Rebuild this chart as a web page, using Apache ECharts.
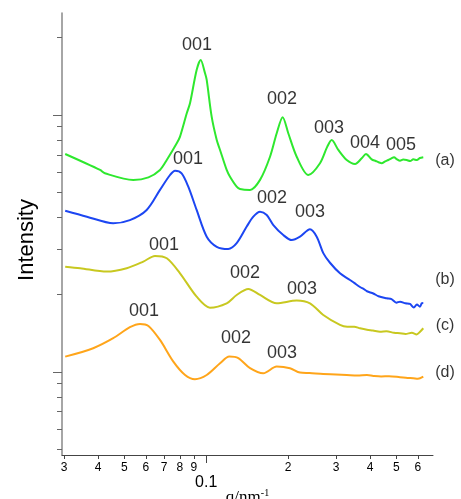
<!DOCTYPE html>
<html><head><meta charset="utf-8">
<script src="https://cdn.jsdelivr.net/npm/echarts@6/dist/echarts.min.js"></script>
<style>html,body{margin:0;padding:0;background:#fff}#c{width:461px;height:499px}</style>
</head><body><div id="c"></div>
<script>
// q in nm^-1 (log axis), intensity arbitrary (log axis)
const qA = [0.0303,0.0407,0.0424,0.0539,0.0613,0.0676,0.0716,0.0779,0.0801,0.0848,0.0872,0.0922,0.0954,0.0990,0.1004,0.1047,0.1093,0.1124,0.1189,0.1223,0.1294,0.1331,0.1449,0.1577,0.1716,0.1816,0.1910,0.2003,0.2151,0.2373,0.2620,0.2787,0.2893,0.3059,0.3285,0.3525,0.3729,0.3867,0.4059,0.4200,0.4300,0.4416,0.4550,0.4671,0.4800,0.4902,0.5030,0.5158,0.5300,0.5460,0.5620,0.5772,0.5950,0.6100,0.6281];
const iA = [0.705,0.611,0.593,0.559,0.572,0.611,0.668,0.776,0.824,1.015,1.114,1.497,1.637,1.453,1.369,0.985,0.799,0.731,0.611,0.575,0.526,0.515,0.511,0.559,0.688,0.849,0.980,0.849,0.688,0.584,0.649,0.753,0.799,0.731,0.668,0.645,0.678,0.705,0.672,0.662,0.655,0.649,0.660,0.668,0.678,0.685,0.672,0.664,0.671,0.668,0.662,0.672,0.668,0.680,0.685];

const qB = [0.0303,0.0364,0.0455,0.0524,0.0604,0.0676,0.0736,0.0768,0.0812,0.0859,0.0922,0.1004,0.1093,0.1205,0.1294,0.1409,0.1490,0.1577,0.1669,0.1765,0.1920,0.2062,0.2212,0.2407,0.2548,0.2694,0.2851,0.3103,0.3377,0.3500,0.3676,0.3800,0.3900,0.4114,0.4300,0.4607,0.4800,0.5000,0.5158,0.5400,0.5613,0.5800,0.5950,0.6107,0.6200,0.6281];
const iB = [0.424,0.402,0.379,0.390,0.427,0.511,0.584,0.607,0.593,0.526,0.427,0.336,0.307,0.301,0.317,0.368,0.402,0.420,0.408,0.373,0.341,0.326,0.336,0.359,0.336,0.290,0.266,0.242,0.228,0.222,0.214,0.210,0.206,0.202,0.197,0.1935,0.192,0.186,0.1877,0.185,0.1839,0.178,0.183,0.1795,0.1850,0.1855];

const qC = [0.0303,0.0344,0.0431,0.0510,0.0587,0.0648,0.0716,0.0801,0.0922,0.1032,0.1189,0.1294,0.1428,0.1577,0.1816,0.2151,0.2407,0.2694,0.3103,0.3300,0.3500,0.3676,0.3900,0.4100,0.4354,0.4600,0.4900,0.5158,0.5400,0.5700,0.5939,0.6100,0.6281];
const iC = [0.2569,0.2533,0.2457,0.2533,0.2687,0.2828,0.2770,0.2420,0.1963,0.1779,0.1850,0.1993,0.2104,0.1993,0.1850,0.1897,0.1850,0.1666,0.1524,0.1500,0.1500,0.1479,0.1460,0.1450,0.1435,0.1440,0.1420,0.1414,0.1405,0.1420,0.1400,0.1430,0.1479];

const qD = [0.0303,0.0384,0.0455,0.0524,0.0571,0.0613,0.0676,0.0757,0.0836,0.0909,0.1004,0.1124,0.1216,0.1312,0.1449,0.1621,0.1816,0.2032,0.2212,0.2400,0.2694,0.3000,0.3285,0.3600,0.3900,0.4114,0.4400,0.4700,0.5158,0.5500,0.5772,0.6000,0.6281];
const iD = [0.1147,0.1237,0.1353,0.1493,0.1538,0.1510,0.1332,0.1097,0.0973,0.0937,0.0973,0.1081,0.1147,0.1131,0.1034,0.0988,0.1049,0.1034,0.0994,0.0990,0.0982,0.0978,0.0973,0.0968,0.0972,0.0965,0.0960,0.0962,0.0954,0.0948,0.0945,0.0940,0.0958];

// peak annotations
const peakText = ['001','002','003','004','005','001','002','003','001','002','003','001','002','003'];
const peakQ    = [0.0925,0.190,0.2828,0.3837,0.520,0.0857,0.1745,0.2407,0.0700,0.1388,0.225,0.0590,0.1287,0.190];
const peakI    = [1.873,1.154,0.890,0.778,0.764,0.674,0.4754,0.4195,0.312,0.2428,0.2104,0.1727,0.1356,0.1186];
// sample tags
const tagText = ['(a)','(b)','(c)','(d)'];
const tagQ    = [0.755,0.755,0.755,0.755];
const tagI    = [0.662,0.228,0.151,0.0991];

// axis ticks
const xMinorTicks = [0.03,0.04,0.05,0.06,0.07,0.08,0.09,0.2,0.3,0.4,0.5,0.6];
const xMajorTicks = [0.1];
const yMinorTicks = [0.05,0.06,0.07,0.08,0.09,0.2,0.3,0.4,0.5,0.6,0.7,0.8,0.9,2];
const yMajorTicks = [0.1,1];

const X_MIN = 0.02949, X_MAX = 0.682, Y_MIN = 0.0475, Y_MAX = 2.494;
const colors = ['#2ee82e','#1c46f2','#c8c820','#ffa51a'];

function pairs(q, v){ return q.map((x,i)=>[x, v[i]]); }

const labelData = peakText.map((t,i)=>({name:t, value:[peakQ[i], peakI[i]]}))
  .concat(tagText.map((t,i)=>({name:t, value:[tagQ[i], tagI[i]], label:{fontSize:16}})));

const font = 'Liberation Sans, Arial, Helvetica, sans-serif';
const chart = echarts.init(document.getElementById('c'), null, {renderer:'canvas'});
const lineS = (d,c)=>({type:'line', data:d, showSymbol:false, smooth:0.3, lineStyle:{color:c, width:2}, itemStyle:{color:c}, z:3, xAxisIndex:0, yAxisIndex:0});
chart.setOption({
  animation:false,
  textStyle:{fontFamily:font},
  grid:{left:62, right:28, top:13, bottom:44, containLabel:false, outerBoundsMode:'none'},
  xAxis:[
    {type:'log', min:X_MIN, max:X_MAX, position:'bottom',
     axisLine:{onZero:false, lineStyle:{color:'#444', width:1}},
     axisTick:{customValues:xMinorTicks, length:4, inside:false, lineStyle:{color:'#444'}},
     axisLabel:{customValues:xMinorTicks, margin:7, fontSize:12, color:'#000', fontFamily:font,
       formatter:v=> v<0.095 ? String(Math.round(v*100)) : String(Math.round(v*10))},
     splitLine:{show:false}, minorTick:{show:false}},
    {type:'log', min:X_MIN, max:X_MAX, position:'bottom',
     axisLine:{show:false, onZero:false},
     axisTick:{customValues:xMajorTicks, length:8, lineStyle:{color:'#444'}},
     axisLabel:{customValues:xMajorTicks, margin:20, fontSize:16, color:'#000', fontFamily:font, formatter:()=> '0.1'},
     splitLine:{show:false},
     name:'{q|q/nm}{s|-1}', nameLocation:'middle', nameGap:33, nameMoveOverlap:false,
     nameTextStyle:{rich:{q:{fontFamily:'Liberation Serif, Times New Roman, serif', fontSize:17, color:'#000'},
                          s:{fontFamily:'Liberation Serif, Times New Roman, serif', fontSize:10, color:'#000', padding:[0,0,9,0]}}}}
  ],
  yAxis:[
    {type:'log', min:Y_MIN, max:Y_MAX, position:'left',
     axisLine:{onZero:false, lineStyle:{color:'#888', width:1.5}},
     axisTick:{customValues:yMinorTicks, length:5, lineStyle:{color:'#666'}},
     axisLabel:{show:false}, splitLine:{show:false}},
    {type:'log', min:Y_MIN, max:Y_MAX, position:'left',
     axisLine:{show:false, onZero:false},
     axisTick:{customValues:yMajorTicks, length:9, lineStyle:{color:'#666'}},
     axisLabel:{show:false}, splitLine:{show:false},
     name:'Intensity', nameLocation:'middle', nameGap:24, nameMoveOverlap:false,
     nameTextStyle:{fontSize:22, color:'#000', fontFamily:font, padding:[0,12,0,0]}}
  ],
  series:[
    lineS(pairs(qA,iA), colors[0]),
    lineS(pairs(qB,iB), colors[1]),
    lineS(pairs(qC,iC), colors[2]),
    lineS(pairs(qD,iD), colors[3]),
    {type:'scatter', data:labelData, xAxisIndex:0, yAxisIndex:0, clip:false, symbolSize:1,
     itemStyle:{color:'rgba(0,0,0,0)'}, silent:true, z:5,
     label:{show:true, position:'inside', formatter:'{b}', fontSize:18, color:'#000', fontFamily:font}}
  ]
});
</script></body></html>
